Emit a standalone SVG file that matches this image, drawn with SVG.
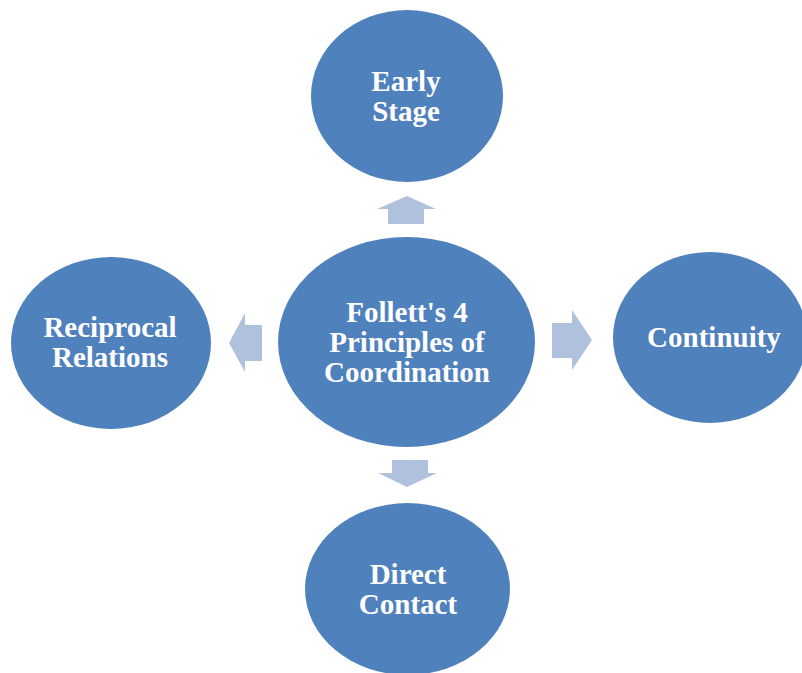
<svg xmlns="http://www.w3.org/2000/svg" width="802" height="673" viewBox="0 0 802 673">
  <style>
    .node { fill: #4F81BD; }
    .label { fill: #FFFFFF; font-family: "Liberation Serif", "Times New Roman", serif; font-weight: bold; font-size: 29px; text-anchor: middle; }
    .arrow { fill: #B0C1DD; }
  </style>
  <rect width="802" height="673" fill="#FFFFFF"/>

  <g id="connectors">
    <!-- up -->
    <polygon class="arrow" points="388,224 388,209 377,209 407,196 436,209 424,209 424,224"/>
    <!-- left -->
    <polygon class="arrow" points="262,325 245,325 245,313 229,343 245,372 245,361 262,361"/>
    <!-- right -->
    <polygon class="arrow" points="552,323 572,323 572,310 592,340 572,370 572,358 552,358"/>
    <!-- down -->
    <polygon class="arrow" points="392,460 428,460 428,473 437,473 407,487 378,473 392,473"/>
  </g>

  <g id="center">
    <ellipse class="node" cx="406.5" cy="342" rx="128.5" ry="105"/>
    <text class="label" x="407" y="322">Follett's 4</text>
    <text class="label" x="407" y="352">Principles of</text>
    <text class="label" x="407" y="382">Coordination</text>
  </g>

  <g id="early-stage">
    <ellipse class="node" cx="407" cy="96" rx="96" ry="86"/>
    <text class="label" x="406" y="91">Early</text>
    <text class="label" x="406" y="121">Stage</text>
  </g>

  <g id="continuity">
    <ellipse class="node" cx="710" cy="337.5" rx="97" ry="85.5"/>
    <text class="label" x="714" y="347">Continuity</text>
  </g>

  <g id="reciprocal-relations">
    <ellipse class="node" cx="111" cy="343" rx="100" ry="86"/>
    <text class="label" x="110" y="337">Reciprocal</text>
    <text class="label" x="110" y="367">Relations</text>
  </g>

  <g id="direct-contact">
    <ellipse class="node" cx="407.5" cy="589" rx="102.5" ry="86"/>
    <text class="label" x="408" y="584">Direct</text>
    <text class="label" x="408" y="614">Contact</text>
  </g>
</svg>
